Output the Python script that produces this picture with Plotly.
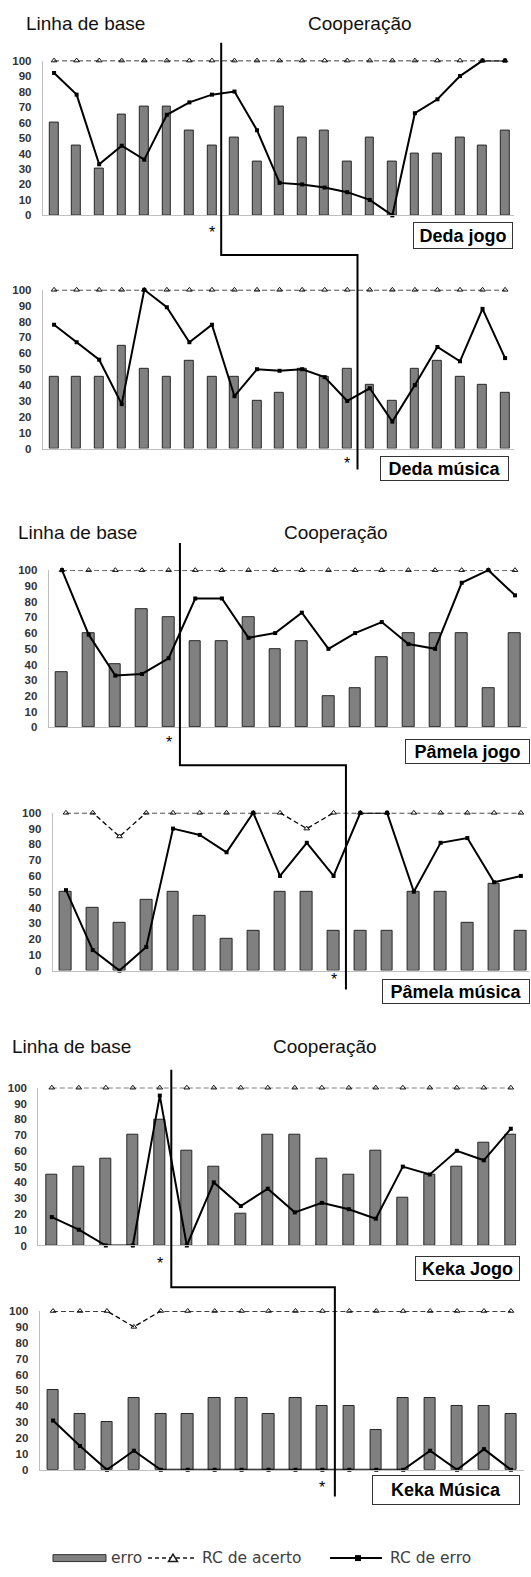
import plotly.graph_objects as go

# ---- data: percentage per session --------------------------------------
# Deda - jogo
deda_jogo_erro = [60, 45, 30, 65, 70, 70, 55, 45, 50, 35, 70, 50, 55, 35, 50, 35, 40, 40, 50, 45, 55]
deda_jogo_rc_acerto = [100] * 21
deda_jogo_rc_erro = [92, 78, 33, 45, 36, 65, 73, 78, 80, 55, 21, 20, 18, 15, 10, 0, 66, 75, 90, 100, 100]
deda_jogo_baseline = 8

# Deda - música
deda_musica_erro = [45, 45, 45, 65, 50, 45, 55, 45, 45, 30, 35, 50, 45, 50, 40, 30, 50, 55, 45, 40, 35]
deda_musica_rc_acerto = [100] * 21
deda_musica_rc_erro = [78, 67, 56, 28, 100, 89, 67, 78, 33, 50, 49, 50, 45, 30, 38, 17, 40, 64, 55, 88, 57]
deda_musica_baseline = 14

# Pâmela - jogo
pamela_jogo_erro = [35, 60, 40, 75, 70, 55, 55, 70, 50, 55, 20, 25, 45, 60, 60, 60, 25, 60]
pamela_jogo_rc_acerto = [100] * 18
pamela_jogo_rc_erro = [100, 59, 33, 34, 44, 82, 82, 57, 60, 73, 50, 60, 67, 53, 50, 92, 100, 84]
pamela_jogo_baseline = 5

# Pâmela - música
pamela_musica_erro = [50, 40, 30, 45, 50, 35, 20, 25, 50, 50, 25, 25, 25, 50, 50, 30, 55, 25]
pamela_musica_rc_acerto = [100, 100, 85, 100, 100, 100, 100, 100, 100, 90, 100, 100, 100, 100, 100, 100, 100, 100]
pamela_musica_rc_erro = [51, 13, 0, 15, 90, 86, 75, 100, 60, 81, 60, 100, 100, 50, 81, 84, 56, 60]
pamela_musica_baseline = 11

# Keka - jogo
keka_jogo_erro = [45, 50, 55, 70, 80, 60, 50, 20, 70, 70, 55, 45, 60, 30, 45, 50, 65, 70]
keka_jogo_rc_acerto = [100] * 18
keka_jogo_rc_erro = [18, 10, 0, 0, 95, 0, 40, 25, 36, 21, 27, 23, 17, 50, 45, 60, 54, 74]
keka_jogo_baseline = 5

# Keka - música
keka_musica_erro = [50, 35, 30, 45, 35, 35, 45, 45, 35, 45, 40, 40, 25, 45, 45, 40, 40, 35]
keka_musica_rc_acerto = [100, 100, 100, 90, 100, 100, 100, 100, 100, 100, 100, 100, 100, 100, 100, 100, 100, 100]
keka_musica_rc_erro = [31, 15, 0, 12, 0, 0, 0, 0, 0, 0, 0, 0, 0, 0, 12, 0, 13, 0]
keka_musica_baseline = 11

y_ticks = list(range(0, 101, 10))

# ---- page geometry (pixels) ---------------------------------------------
W, H = 531, 1577

panels = [
    dict(title="Deda jogo", erro=deda_jogo_erro, acerto=deda_jogo_rc_acerto, rc_erro=deda_jogo_rc_erro,
         base=deda_jogo_baseline, left=42.8, right=514.1, top=55, bottom=211, xmax=20.4, bw=0.39,
         star_y=228, box=(413, 218, 513, 245)),
    dict(title="Deda música", erro=deda_musica_erro, acerto=deda_musica_rc_acerto, rc_erro=deda_musica_rc_erro,
         base=deda_musica_baseline, left=42.8, right=514.1, top=286, bottom=446, xmax=20.4, bw=0.39,
         star_y=461, box=(380, 454, 509, 479)),
    dict(title="Pâmela jogo", erro=pamela_jogo_erro, acerto=pamela_jogo_rc_acerto, rc_erro=pamela_jogo_rc_erro,
         base=pamela_jogo_baseline, left=48.7, right=527, top=568.5, bottom=727, xmax=17.45, bw=0.44,
         star_y=742, box=(405, 739, 530, 764)),
    dict(title="Pâmela música", erro=pamela_musica_erro, acerto=pamela_musica_rc_acerto, rc_erro=pamela_musica_rc_erro,
         base=pamela_musica_baseline, left=52.6, right=528.9, top=813, bottom=972, xmax=17.3, bw=0.44,
         star_y=981, box=(382, 981, 530, 1006)),
    dict(title="Keka Jogo", erro=keka_jogo_erro, acerto=keka_jogo_rc_acerto, rc_erro=keka_jogo_rc_erro,
         base=keka_jogo_baseline, left=38.3, right=516.2, top=1090, bottom=1249, xmax=17.2, bw=0.41,
         star_y=1267, box=(415, 1260, 520, 1285)),
    dict(title="Keka Música", erro=keka_musica_erro, acerto=keka_musica_rc_acerto, rc_erro=keka_musica_rc_erro,
         base=keka_musica_baseline, left=39.6, right=524.4, top=1315, bottom=1475, xmax=17.5, bw=0.42,
         star_y=1493, box=(372, 1480, 520, 1510)),
]

# phase-change connectors: (upper panel, lower panel, top y, elbow y, bottom y)
connectors = [(0, 1, 37, 251, 467), (2, 3, 541, 765, 991), (4, 5, 1072, 1291, 1502)]
# phase headings: (y, "Linha de base" left x, "Cooperação" centre x)
headings = [(18, 24, 360), (531, 16, 335.5), (1048, 10, 325)]


def fx(px):
    return px / W


def fy(py):
    return 1 - py / H


def data_to_px(p, xv):
    return p["left"] + (xv + 0.5) / (p["xmax"] + 0.5) * (p["right"] - p["left"])


BAR_FILL = "#808080"
BAR_EDGE = "#262626"
AXIS_GREY = "#bfbfbf"
TICK_FONT = dict(family="Liberation Sans, Arial", size=11.5, color="#333333", weight="bold")

fig = go.Figure()
layout = dict(
    width=W, height=H, margin=dict(l=0, r=0, t=0, b=0, pad=0),
    paper_bgcolor="white", plot_bgcolor="white", showlegend=False,
    bargap=0, shapes=[], annotations=[],
)

for i, p in enumerate(panels, start=1):
    n = len(p["erro"])
    xs = list(range(n))
    xa, ya = f"x{i}", f"y{i}"
    fig.add_trace(go.Bar(
        x=xs, y=p["erro"], width=p["bw"], xaxis=xa, yaxis=ya, name="erro",
        marker=dict(color=BAR_FILL, line=dict(color=BAR_EDGE, width=1)),
    ))
    fig.add_trace(go.Scatter(
        x=xs, y=p["acerto"], xaxis=xa, yaxis=ya, name="RC de acerto", mode="lines+markers",
        line=dict(color="#000000", width=1.3, dash="5px,3px"),
        marker=dict(symbol="triangle-up-open", size=5, color="#111111", line=dict(width=1)),
        cliponaxis=False,
    ))
    fig.add_trace(go.Scatter(
        x=xs, y=p["rc_erro"], xaxis=xa, yaxis=ya, name="RC de erro", mode="lines+markers",
        line=dict(color="black", width=2),
        marker=dict(symbol="square", size=4, color="black"),
        cliponaxis=False,
    ))
    key = "" if i == 1 else str(i)
    layout["xaxis" + key] = dict(
        domain=[fx(p["left"]), fx(p["right"])], range=[-0.5, p["xmax"]], anchor=ya,
        showticklabels=False, ticks="", showgrid=False, zeroline=False,
        showline=True, linecolor=AXIS_GREY, linewidth=1, fixedrange=True,
    )
    layout["yaxis" + key] = dict(
        domain=[fy(p["bottom"]), fy(p["top"])], range=[0, 100], anchor=xa,
        tickvals=y_ticks, ticks="", ticklabelstandoff=8, tickfont=TICK_FONT,
        showgrid=False, zeroline=False, showline=True, linecolor=AXIS_GREY, linewidth=1,
        fixedrange=True,
    )
    # asterisk under the last baseline session
    layout["annotations"].append(dict(
        x=p["base"] - 1, xref=xa, y=fy(p["star_y"]), yref="paper", text="*", showarrow=False,
        font=dict(family="Liberation Sans, Arial", size=16, color="black"),
        xanchor="center", yanchor="middle",
    ))
    # participant / condition label box
    x0, y0, x1, y1 = p["box"]
    layout["annotations"].append(dict(
        x=fx((x0 + x1) / 2), y=fy((y0 + y1) / 2), xref="paper", yref="paper",
        text=p["title"], showarrow=False, xanchor="center", yanchor="middle",
        width=x1 - x0 - 2, height=y1 - y0 - 2, borderpad=0, borderwidth=1,
        bordercolor="#333333", bgcolor="white",
        font=dict(family="Liberation Sans, Arial", size=18, color="black", weight="bold"),
    ))

# phase-change lines, stepping from the upper panel to the lower one
for up, low, y_top, y_mid, y_bot in connectors:
    xa_px = data_to_px(panels[up], panels[up]["base"] - 0.5) - 2
    xb_px = data_to_px(panels[low], panels[low]["base"] - 0.5) - 1
    path = (f"M {fx(xa_px)},{fy(y_top)} L {fx(xa_px)},{fy(y_mid)} "
            f"L {fx(xb_px)},{fy(y_mid)} L {fx(xb_px)},{fy(y_bot)}")
    layout["shapes"].append(dict(type="path", path=path, xref="paper", yref="paper",
                                 line=dict(color="black", width=2)))

HEAD_FONT = dict(family="Liberation Sans, Arial", size=19, color="#111111")
for y, x_base, x_coop in headings:
    layout["annotations"].append(dict(x=fx(x_base), y=fy(y), xref="paper", yref="paper",
                                      text="Linha de base", showarrow=False,
                                      xanchor="left", yanchor="middle", font=HEAD_FONT))
    layout["annotations"].append(dict(x=fx(x_coop), y=fy(y), xref="paper", yref="paper",
                                      text="Cooperação", showarrow=False,
                                      xanchor="center", yanchor="middle", font=HEAD_FONT))

# ---- legend drawn along the bottom --------------------------------------
LEG_Y = 1564
LEG_FONT = dict(family="DejaVu Sans", size=15.5, color="#404040")
layout["shapes"] += [
    dict(type="rect", xref="paper", yref="paper", x0=fx(53), x1=fx(106), y0=fy(1560.5), y1=fy(1567.5),
         fillcolor=BAR_FILL, line=dict(color="#333333", width=1)),
    dict(type="line", xref="paper", yref="paper", x0=fx(148), x1=fx(197), y0=fy(LEG_Y), y1=fy(LEG_Y),
         line=dict(color="#1a1a1a", width=1.5, dash="4px,3px")),
    dict(type="path", xref="paper", yref="paper",
         path=f"M {fx(168.5)},{fy(LEG_Y + 3.5)} L {fx(177.5)},{fy(LEG_Y + 3.5)} L {fx(173)},{fy(LEG_Y - 4)} Z",
         fillcolor="white", line=dict(color="#1a1a1a", width=1.5)),
    dict(type="line", xref="paper", yref="paper", x0=fx(330), x1=fx(382), y0=fy(LEG_Y), y1=fy(LEG_Y),
         line=dict(color="black", width=2)),
    dict(type="rect", xref="paper", yref="paper", x0=fx(355), x1=fx(361), y0=fy(LEG_Y - 3), y1=fy(LEG_Y + 3),
         fillcolor="black", line=dict(color="black", width=0)),
]
for x_txt, label in [(109, "erro"), (200, "RC de acerto"), (388, "RC de erro")]:
    layout["annotations"].append(dict(x=fx(x_txt), y=fy(LEG_Y), xref="paper", yref="paper", text=label,
                                      showarrow=False, xanchor="left", yanchor="middle", font=LEG_FONT))

fig.update_layout(**layout)
fig.write_html("out.html")
